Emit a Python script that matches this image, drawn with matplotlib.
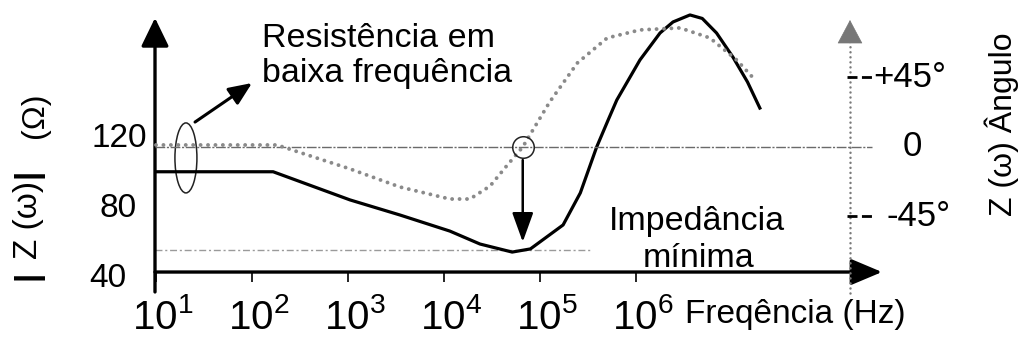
import matplotlib
matplotlib.use("Agg")
import matplotlib.pyplot as plt
import matplotlib.transforms as mtransforms
from matplotlib.patches import Ellipse

plt.rcParams['font.family'] = ['Liberation Sans', 'DejaVu Sans']
plt.rcParams['mathtext.fontset'] = 'custom'
plt.rcParams['mathtext.rm'] = 'Liberation Sans'
plt.rcParams['mathtext.it'] = 'Liberation Sans:italic'
plt.rcParams['mathtext.bf'] = 'Liberation Sans:bold'

# ---- data -------------------------------------------------------------
# impedance magnitude |Z(w)| in ohm
mag_freq_hz = [10, 166, 1050, 3470, 11500, 23700, 51300, 79400, 174000,
               263000, 389000, 513000, 631000, 1.10e6, 1.78e6, 2.43e6,
               3.65e6, 4.9e6, 6.9e6, 1.02e7, 1.45e7, 1.95e7]
mag_ohm = [99, 99, 82.9, 74.3, 65.1, 57.7, 53.1, 54.9, 68.6,
           86.9, 113.1, 128.6, 140, 162.9, 178.3, 184.6,
           188.6, 186.6, 178.3, 164.6, 150.3, 135.4]

# impedance phase angle in degrees
phase_freq_hz = [10, 182, 1050, 3470, 11500, 18600, 30200, 45700, 66100,
                 126000, 245000, 501000, 1.10e6, 2.88e6, 5.89e6, 1.12e7,
                 1.74e7]
phase_deg = [1.3, 1.3, -14.2, -25.9, -33.7, -33.7, -25.3, -11.7, 0,
             29.1, 54.4, 70.6, 75.8, 77.1, 70.6, 56.3, 43.4]

decade_ticks = [1e1, 1e2, 1e3, 1e4, 1e5, 1e6]
decade_labels = [r'$\mathregular{10^{%d}}$' % n for n in range(1, 7)]
mag_ticks = [40, 80, 120]
mag_tick_labels = ['40', '80', '120']
phase_ticks = [45, 0, -45]
phase_tick_labels = ['+45°', '0', '-45°']

# ---- layout -------------------------------------------------------------
W, H = 1027, 343
fig = plt.figure(figsize=(W / 100, H / 100), dpi=100)
ax = fig.add_axes([155 / W, (H - 275) / H, 727 / W, 265 / H])
ax.patch.set_alpha(0)
ax.set_xscale('log')
XMIN, XMAX = 10 ** 0.98958, 10 ** 8.5625
ax.set_xlim(XMIN, XMAX)
ax.set_ylim(40, 191.43)
ax2 = ax.twinx()
ax2.set_ylim(-82.9, 88.7)

for a in (ax, ax2):
    for s in a.spines.values():
        s.set_visible(False)

AXIS_Y = 41.7
ax.spines['bottom'].set_position(('data', AXIS_Y))


def fx(px):
    return px / W


def fy(py):
    return (H - py) / H


def lx(px):
    # horizontal pixel -> frequency on the log axis
    return 10 ** (1 + (px - 156) / 96)


def shift(artist, dx_px, dy_px=0):
    artist.set_transform(artist.get_transform() +
                         mtransforms.ScaledTranslation(dx_px / 100, dy_px / 100,
                                                       fig.dpi_scale_trans))


# ticks
ax.set_xticks(decade_ticks, decade_labels)
ax.xaxis.set_minor_locator(matplotlib.ticker.NullLocator())
ax.tick_params(axis='x', direction='out', length=7, width=1.2, pad=12,
               labelsize=29, color='k')
for lab in ax.get_xticklabels():
    shift(lab, 7)
ax.set_yticks(mag_ticks, mag_tick_labels)
ax.tick_params(axis='y', length=0, pad=6, labelsize=24)
for lab, dx in zip(ax.get_yticklabels(), [-20, -10, 0]):
    shift(lab, dx)
ax2.set_yticks([])

# axes drawn as arrows
ax.annotate('', xy=(XMAX, AXIS_Y), xytext=(XMIN, AXIS_Y),
            arrowprops=dict(arrowstyle='-|>,head_length=1.9,head_width=0.8',
                            mutation_scale=10, lw=2.4, color='k',
                            shrinkA=0, shrinkB=0),
            annotation_clip=False)
ax.annotate('', xy=(XMIN, 186.9), xytext=(XMIN, 30.3),
            arrowprops=dict(arrowstyle='-|>,head_length=1.75,head_width=0.85',
                            mutation_scale=10, lw=2.4, color='k',
                            shrinkA=0, shrinkB=0),
            annotation_clip=False)

# phase axis (dotted, grey)
XR = lx(850)
ax2.plot([XR, XR], [-94.5, 67.3], color='#7a7a7a', lw=1.8,
         ls=(0, (0.01, 2.0)), dash_capstyle='round', clip_on=False)
ax2.annotate('', xy=(XR, 82.2), xytext=(XR, 67.3),
             arrowprops=dict(arrowstyle='-|>,head_length=1.6,head_width=0.85',
                             mutation_scale=10, lw=0.5, color='#777777',
                             shrinkA=0, shrinkB=0),
             annotation_clip=False)

# reference lines: zero phase and minimum impedance
ax2.plot([XMIN, lx(872)], [0, 0], color='#6a6a6a', lw=1.0,
         ls=(0, (7, 1.2, 1.5, 1.2)), clip_on=False)
ax.plot([XMIN, lx(590)], [min(mag_ohm) + 1.2] * 2, color='#9a9a9a', lw=1.0,
        ls=(0, (5, 2, 1.5, 2)))

# curves
ax2.plot(phase_freq_hz, phase_deg, color='#8a8a8a', lw=2.8,
         ls=(0, (0.01, 1.9)), dash_capstyle='round', clip_on=False)
ax.plot(mag_freq_hz, mag_ohm, color='k', lw=2.3, clip_on=False,
        solid_joinstyle='round')

# phase tick marks and labels
xfig = mtransforms.blended_transform_factory(fig.transFigure, ax2.transData)
label_x = {45: (873, 'left'), 0: (912, 'center'), -45: (887, 'left')}
for val, txt in zip(phase_ticks, phase_tick_labels):
    if val != 0:
        ax2.plot([lx(847), lx(873)], [val, val], color='k', lw=2.0,
                 ls=(0, (3.6, 1.6)), clip_on=False)
    px, ha = label_x[val]
    ax2.text(fx(px), val, txt, transform=xfig, ha=ha, va='center',
             fontsize=25)

# low-frequency resistance annotation
ell_trans = fig.dpi_scale_trans + mtransforms.ScaledTranslation(20.5, 106.9, ax.transData)
ax.add_patch(Ellipse((0, 0), 0.22, 0.70, transform=ell_trans, fill=False,
                     ec='#222222', lw=1.1, clip_on=False))
ax.annotate('', xy=(100, 149.7), xytext=(25.5, 127.4),
            arrowprops=dict(arrowstyle='-|>,head_length=1.4,head_width=0.6',
                            mutation_scale=10, lw=2.2, color='k',
                            shrinkA=0, shrinkB=0))
fig.text(fx(262), fy(47), 'Resistência em', fontsize=24.5, va='baseline')
fig.text(fx(262), fy(82), 'baixa frequência', fontsize=24.5, va='baseline')

# minimum impedance annotation
f_zero = phase_freq_hz[phase_deg.index(0)]
ax2.plot([f_zero], [0], marker='o', ms=15.5, mfc='none', mec='#222222',
         mew=1.1)
ax.annotate('', xy=(f_zero, min(mag_ohm) + 5.8), xytext=(f_zero, 105.7),
            arrowprops=dict(arrowstyle='-|>,head_length=1.8,head_width=0.65',
                            mutation_scale=10, lw=1.8, color='k',
                            shrinkA=0, shrinkB=0))
fig.text(fx(697), fy(230), 'Impedância', fontsize=24.5, ha='center', va='baseline')
fig.text(fx(699), fy(267), 'mínima', fontsize=24.5, ha='center', va='baseline')

# axis titles
fig.text(fx(685), fy(323), 'Freqência (Hz)', fontsize=24, va='baseline')
fig.text(fx(28), fy(275), '|', rotation=90, ha='center', va='center',
         fontsize=24, fontweight='bold')
fig.text(fx(28), fy(173), '|', rotation=90, ha='center', va='center',
         fontsize=24, fontweight='bold')
fig.text(fx(28), fy(220), 'Z (ω)', rotation=90, ha='center', va='center',
         fontsize=24)
fig.text(fx(35), fy(115), '(Ω)', rotation=90, ha='center', va='center',
         fontsize=23)
fig.text(fx(1002), fy(124), 'Z (ω) Ângulo', rotation=90, ha='center',
         va='center', fontsize=23)

fig.savefig('out.png', dpi=100)
